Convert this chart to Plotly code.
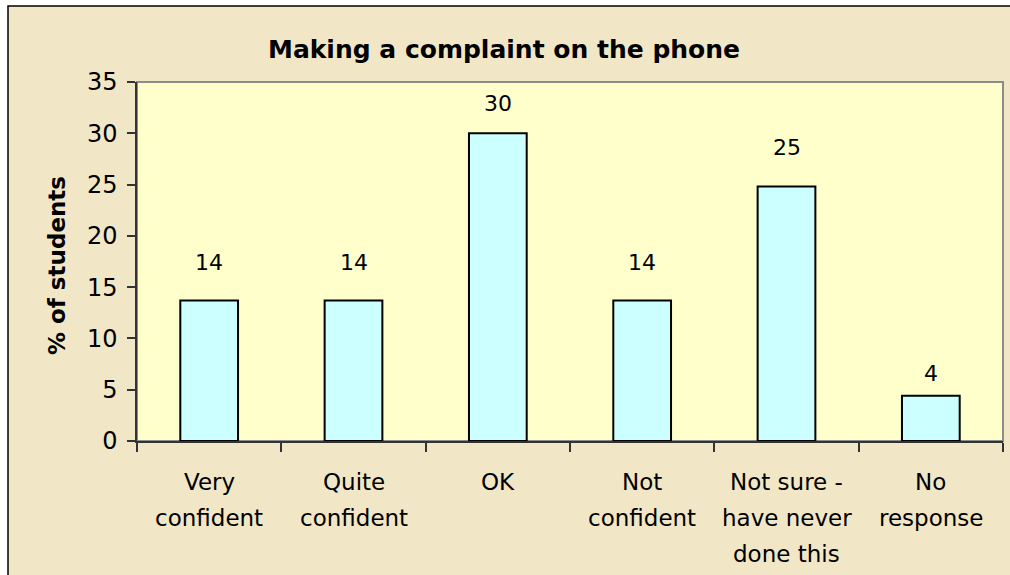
import plotly.graph_objects as go

# ---- data ----
categories = ["Very confident", "Quite confident", "OK", "Not confident",
              "Not sure - have never done this", "No response"]
tick_lines = [["Very", "confident"], ["Quite", "confident"], ["OK"],
              ["Not", "confident"], ["Not sure -", "have never", "done this"],
              ["No", "response"]]
values = [13.7, 13.7, 30.0, 13.7, 24.8, 4.4]
y_ticks = [0, 5, 10, 15, 20, 25, 30, 35]
title_text = "Making a complaint on the phone"
y_title = "% of students"

# ---- style ----
W, H = 1010, 575
L, R, T, B = 137, 7, 82, 134
PW, PH = W - L - R, H - T - B
FONT = "DejaVu Sans"
label_shift = [38, 38, 30, 38, 39, 22]

def px_x(p):
    return (p - L) / PW

def px_y(p):
    return (H - B - p) / PH

fig = go.Figure()
fig.add_trace(go.Bar(
    x=categories, y=values, width=0.4,
    marker=dict(color="#CCFFFF", line=dict(color="#000000", width=2)),
    hoverinfo="x+y",
))

shapes = [
    # outer chart area
    dict(type="rect", xref="paper", yref="paper", layer="below",
         x0=px_x(8), x1=px_x(1030), y0=px_y(600), y1=px_y(6),
         fillcolor="#F1E7C7", line=dict(color="#000000", width=1.5)),
    # plot area
    dict(type="rect", xref="paper", yref="paper", layer="below",
         x0=0, x1=1, y0=0, y1=1,
         fillcolor="#FFFFCC", line=dict(color="#8C8C8C", width=2)),
]

annotations = [
    dict(text="<b>%s</b>" % title_text, xref="paper", yref="paper",
         x=px_x(504), y=px_y(49), xanchor="center", yanchor="middle",
         showarrow=False, font=dict(family=FONT, size=25, color="#000000")),
    dict(text="<b>%s</b>" % y_title, xref="paper", yref="paper",
         x=px_x(57), y=px_y(266), xanchor="center", yanchor="middle",
         textangle=-90, showarrow=False,
         font=dict(family=FONT, size=23, color="#000000")),
]
for cat, lines in zip(categories, tick_lines):
    for i, ln in enumerate(lines):
        annotations.append(dict(
            text=ln, x=cat, xref="x", y=0, yref="paper",
            yshift=-41 - 36 * i, xanchor="center", yanchor="middle",
            showarrow=False, font=dict(family=FONT, size=23, color="#000000")))
for cat, v, s in zip(categories, values, label_shift):
    annotations.append(dict(
        text=f"{v:.0f}", x=cat, y=v, xref="x", yref="y",
        yshift=s, xanchor="center", yanchor="middle", showarrow=False,
        font=dict(family=FONT, size=22, color="#000000")))

fig.update_layout(
    width=W, height=H,
    margin=dict(l=L, r=R, t=T, b=B, pad=0),
    paper_bgcolor="#FFFFFF",
    plot_bgcolor="rgba(0,0,0,0)",
    showlegend=False,
    shapes=shapes,
    annotations=annotations,
    bargap=0.6,
)
fig.update_xaxes(
    type="category", range=[-0.5, 5.5], tickson="boundaries",
    ticks="outside", ticklen=9, tickwidth=1.5, tickcolor="#333333",
    showticklabels=False, showline=True, linecolor="#333333", linewidth=1.5,
    showgrid=False, zeroline=False, fixedrange=True,
)
fig.update_yaxes(
    range=[0, 35], tickmode="array", tickvals=y_ticks,
    ticks="outside", ticklen=8, tickwidth=1.5, tickcolor="#333333",
    tickfont=dict(family=FONT, size=24, color="#000000"),
    ticklabelstandoff=5,
    showline=True, linecolor="#333333", linewidth=1.5,
    showgrid=False, zeroline=False, fixedrange=True,
)

fig.write_html(
    "out.html",
    config={"displayModeBar": False},
    post_script="document.body.style.margin='0';document.body.style.overflow='hidden';",
)
